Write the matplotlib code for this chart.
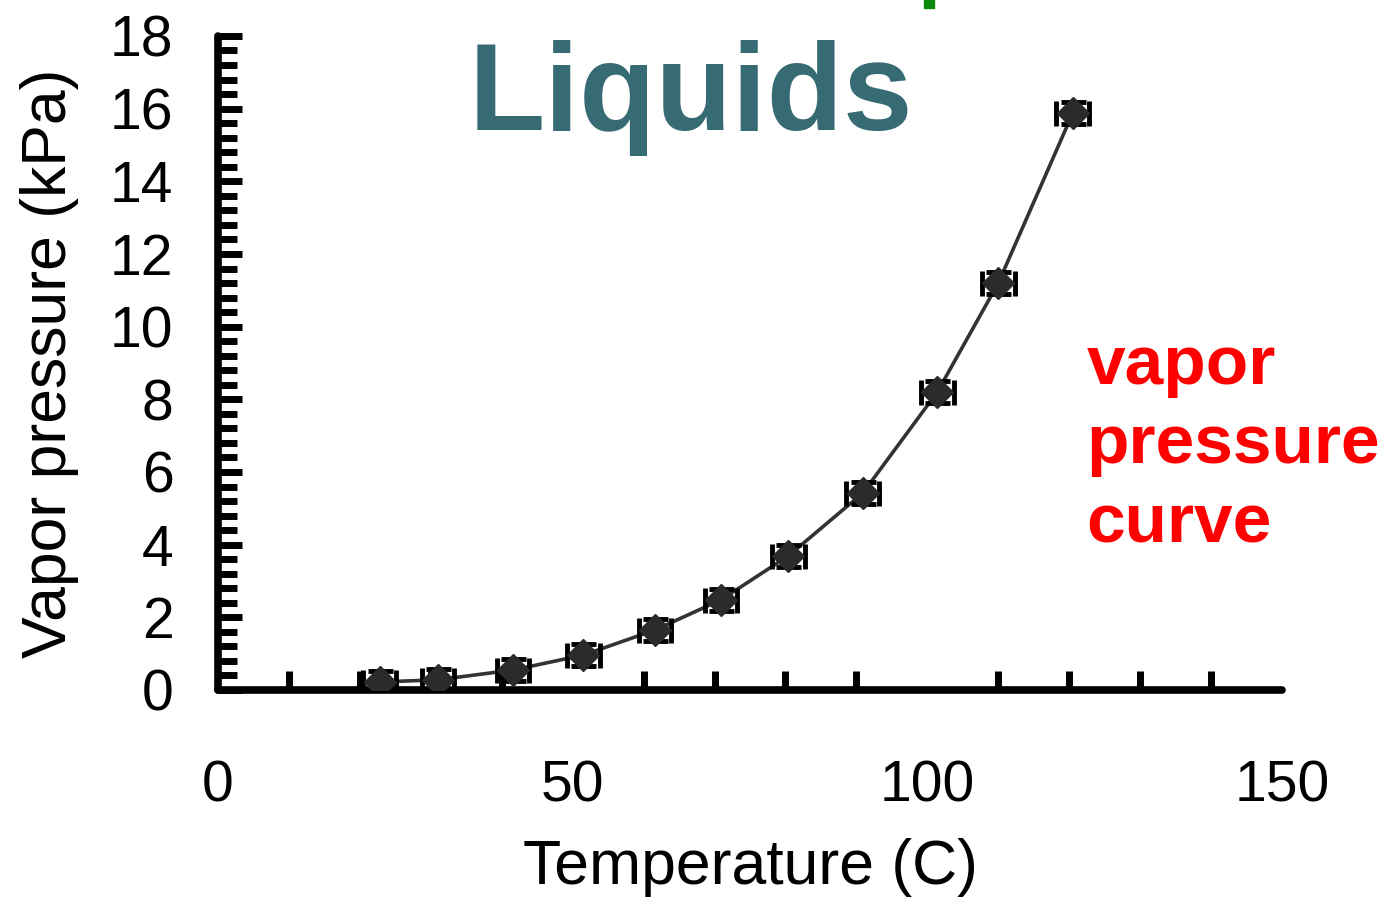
import matplotlib.pyplot as plt
from matplotlib.ticker import MultipleLocator
from matplotlib.patches import Rectangle

plt.rcParams['font.family'] = ['Liberation Sans', 'DejaVu Sans']

# measured temperature (C) and vapor pressure (kPa)
temps = [22.8, 31.0, 41.6, 51.5, 61.6, 70.9, 80.4, 90.9, 101.4, 110.0, 120.5]
pressures = [0.22, 0.28, 0.55, 0.96, 1.65, 2.48, 3.69, 5.42, 8.2, 11.2, 15.88]
temp_err = [2.3] * len(temps)
pres_err = [0.3] * len(temps)

x_ticks = [0, 50, 100, 150]
y_ticks = [0, 2, 4, 6, 8, 10, 12, 14, 16, 18]

fig = plt.figure(figsize=(13.82, 8.99), dpi=100)
ax = fig.add_axes([0.1577, 0.2325, 0.77, 0.7275])

ax.plot(temps, pressures, color="#333333", lw=2.6, zorder=2)
ax.errorbar(temps, pressures, xerr=temp_err, yerr=pres_err, fmt="D",
            color="#2b2b2b", ms=16, ecolor="black", elinewidth=3,
            capsize=9, capthick=3.5, zorder=3)

ax.set_xlim(0, 150)
ax.set_ylim(0, 18)
ax.set_xticks(x_ticks)
ax.set_yticks(y_ticks)
ax.xaxis.set_minor_locator(MultipleLocator(10))
ax.yaxis.set_minor_locator(MultipleLocator(0.4))

for side in ["top", "right"]:
    ax.spines[side].set_visible(False)
for side in ["left", "bottom"]:
    ax.spines[side].set_linewidth(5.5)
    ax.spines[side].set_capstyle("round")

ax.tick_params(axis="y", which="major", direction="in", length=17, width=5,
               labelsize=41, pad=32)
ax.tick_params(axis="y", which="minor", direction="in", length=14, width=5)
ax.tick_params(axis="x", which="major", direction="in", length=0, width=5,
               labelsize=41, pad=50)
ax.tick_params(axis="x", which="minor", direction="in", length=14, width=5)
for t in ax.yaxis.get_ticklines(minor=True) + ax.yaxis.get_ticklines() + ax.xaxis.get_ticklines(minor=True):
    t.set_solid_capstyle("round")

ax.set_xlabel("Temperature (C)", fontsize=45, labelpad=18)
ax.set_ylabel("Vapor pressure (kPa)", fontsize=45, labelpad=22)

fig.text(0.5, 0.855, "Liquids", fontsize=90, fontweight="bold",
         color="#376b73", ha="center", va="baseline")
fig.text(0.786, 0.505, "vapor\npressure\ncurve", fontsize=50, fontweight="bold",
         color="#ff0000", ha="left", va="center", linespacing=1.3)
fig.patches.append(Rectangle((0.6686, 0.991), 0.0072, 0.009, color="#0a8a0a",
                             transform=fig.transFigure, figure=fig))

fig.savefig("out.png", dpi=100)
